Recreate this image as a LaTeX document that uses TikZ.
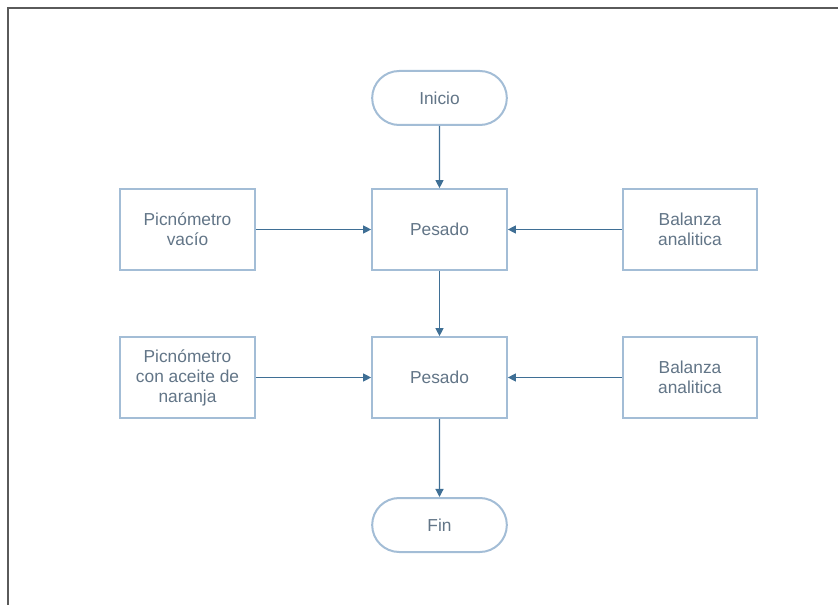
\documentclass[tikz,border=0pt]{standalone}
\usepackage{fontspec}
\setmainfont{Liberation Sans}
\usetikzlibrary{arrows.meta,shapes.misc}
\definecolor{boxline}{HTML}{A3BDD6}
\definecolor{flowline}{HTML}{3F6F95}
\definecolor{labeltext}{HTML}{627587}
\definecolor{framegray}{HTML}{5A5A5A}
\begin{document}
\begin{tikzpicture}[x=0.75pt,y=-0.75pt,
  every node/.style={font=\fontsize{13pt}{15pt}\selectfont, text=labeltext, align=center},
  procbox/.style={draw=boxline, line width=1.5pt, fill=white, minimum width=101pt, minimum height=60.5pt, inner sep=0pt},
  terminal/.style={draw=boxline, line width=1.5pt, fill=white, rounded rectangle, minimum width=101pt, minimum height=40.5pt, inner sep=0pt},
  flow/.style={draw=flowline, line width=0.9pt, -{Triangle[length=6pt,width=6pt]}}]
  \useasboundingbox (0,0) rectangle (838,605);
  % page frame: top and left edges only
  \draw[framegray, line width=1.5pt] (8,605) -- (8,8) -- (838,8);

  \node[terminal] (inicio) at (439.5,98) {Inicio};
  \node[procbox] (pesado1) at (439.5,229.5) {Pesado};
  \node[procbox] (picvacio) at (187.5,229.5) {Picnómetro\\vacío};
  \node[procbox] (balanza1) at (690,229.5) {Balanza\\analitica};
  \node[procbox] (pesado2) at (439.5,377.5) {Pesado};
  \node[procbox] (picaceite) at (187.5,377.5) {Picnómetro\\con aceite de\\naranja};
  \node[procbox] (balanza2) at (690,377.5) {Balanza\\analitica};
  \node[terminal] (fin) at (439.5,525) {Fin};

  \draw[flow] (inicio) -- (pesado1);
  \draw[flow] (picvacio) -- (pesado1);
  \draw[flow] (balanza1) -- (pesado1);
  \draw[flow] (pesado1) -- (pesado2);
  \draw[flow] (picaceite) -- (pesado2);
  \draw[flow] (balanza2) -- (pesado2);
  \draw[flow] (pesado2) -- (fin);
\end{tikzpicture}
\end{document}
